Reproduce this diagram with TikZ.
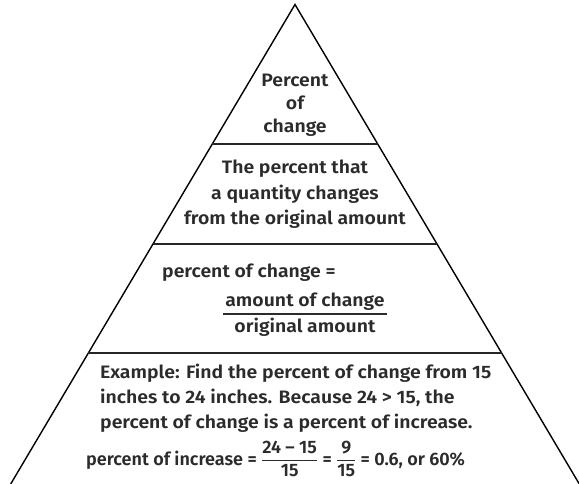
\documentclass[tikz,border=0pt]{standalone}
\usepackage{fontspec}
\setmainfont{Fira Sans}[UprightFont=* SemiBold]
\newfontfamily\widefont{Fira Sans}[UprightFont=* SemiBold,FakeStretch=1.08]
\usetikzlibrary{calc}
\definecolor{txt}{HTML}{2B2B2B}
\begin{document}
\begin{tikzpicture}[x=1pt,y=-1pt,
  side/.style={line width=1.4pt,black,line join=miter},
  band/.style={line width=1.8pt,black!85},
  lbl/.style={inner sep=0pt,text=txt,font=\widefont\fontsize{18}{22}\selectfont},
  frm/.style={inner sep=0pt,text=txt,font=\normalfont\fontsize{18}{22}\selectfont}]
\useasboundingbox (0,0) rectangle (579,484);
\coordinate (A) at (295,4.5);
\coordinate (BL) at (10.7,484);
\coordinate (BR) at (579.3,484);
\draw[side] (BL) -- (A) -- (BR);
% band separators
\coordinate (l1) at ($(A)!0.2909!(BL)$);
\coordinate (r1) at ($(A)!0.2909!(BR)$);
\coordinate (l2) at ($(A)!0.4995!(BL)$);
\coordinate (r2) at ($(A)!0.4995!(BR)$);
\coordinate (l3) at ($(A)!0.7268!(BL)$);
\coordinate (r3) at ($(A)!0.7268!(BR)$);
\draw[band] (l1) -- (r1);
\draw[band] (l2) -- (r2);
\draw[band] (l3) -- (r3);
% top
\node[lbl,anchor=base] (t1) at (295,87) {Percent};
\node[lbl,anchor=base] (t2) at (295,110) {of};
\node[lbl,anchor=base] (t3) at (295,133) {change};
% second
\node[lbl,anchor=base] (d1) at (295,174) {The percent that};
\node[lbl,anchor=base] (d2) at (295,199.5) {a quantity changes};
\node[lbl,anchor=base] (d3) at (295,225) {from the original amount};
% third
\node[lbl,anchor=base west] (f1) at (162,277) {percent of change =};
\node[lbl,anchor=base] (fn) at (305,306) {amount of change};
\node[lbl,anchor=base] (fd) at (305,332) {original amount};
\coordinate (fbl) at (223,314);
\coordinate (fbr) at (387,314);
\draw[line width=1.3pt,txt] (fbl) -- (fbr);
% example
\node[lbl,anchor=base west] (e1) at (100,378) {Example: Find the percent of change from 15};
\node[lbl,anchor=base west] (e2) at (100,403) {inches to 24 inches. Because 24 > 15, the};
\node[lbl,anchor=base west] (e3) at (100,428) {percent of change is a percent of increase.};
\node[frm,anchor=base west] (e4) at (86,465) {percent of increase = $\color{txt}\displaystyle\frac{\mbox{24 – 15}}{\mbox{15}}$ = $\color{txt}\displaystyle\frac{\mbox{9}}{\mbox{15}}$ = 0.6, or 60\%};
\end{tikzpicture}
\end{document}
